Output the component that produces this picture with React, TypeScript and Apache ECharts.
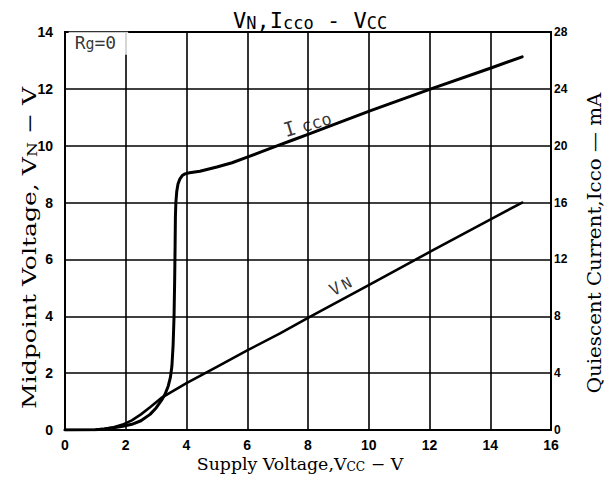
import React, { useEffect, useRef } from "react";
import * as echarts from "echarts";

// Supply voltage (V) vs quiescent current Icco (mA)
const iccoPoints: [number, number][] = [
  [0, 0], [1.0, 0.02], [1.3, 0.07], [1.6, 0.16], [1.9, 0.26], [2.2, 0.4],
  [2.5, 0.65], [2.8, 1.1], [3.0, 1.55], [3.18, 2.1], [3.3, 2.55], [3.4, 3.1],
  [3.47, 3.7], [3.52, 4.5], [3.56, 6.0], [3.59, 8.0], [3.61, 10.5], [3.625, 13.0],
  [3.635, 15.0], [3.65, 16.0], [3.68, 16.8], [3.72, 17.3], [3.78, 17.65],
  [3.86, 17.9], [3.95, 18.02], [4.1, 18.1], [4.44, 18.2], [5.0, 18.5],
  [5.5, 18.8], [6.0, 19.2], [6.5, 19.6], [7.0, 20.0], [7.5, 20.4], [8.0, 20.8],
  [8.8, 21.45], [10.04, 22.45], [12.05, 24.0], [14.0, 25.45], [15.05, 26.25],
];

// Supply voltage (V) vs midpoint voltage VN (V)
const vnPoints: [number, number][] = [
  [0, 0], [1.0, 0.01], [1.3, 0.04], [1.6, 0.1], [1.9, 0.19], [2.2, 0.34],
  [2.5, 0.55], [2.8, 0.8], [3.2, 1.15], [4.0, 1.65], [5.0, 2.22], [6.0, 2.8],
  [7.08, 3.4], [8.09, 4.0], [10.06, 5.13], [12.07, 6.3], [14.01, 7.41], [15.05, 8.0],
];

const xTicks = [0, 2, 4, 6, 8, 10, 12, 14, 16];
const vnTicks = [0, 2, 4, 6, 8, 10, 12, 14];
const iccTicks = [0, 4, 8, 12, 16, 20, 24, 28];

// annotation anchors (data coordinates)
const iccoLabelAt: [number, number] = [7.97, 21.6];
const vnLabelAt: [number, number] = [9.05, 5.1];
const rgLabelAt: [number, number] = [1.1, 13.6];

const SERIF = "DejaVu Serif";
const MONO = "DejaVu Sans Mono";
const SANS = "Liberation Sans";

export default function App() {
  const ref = useRef<HTMLDivElement>(null);

  useEffect(() => {
    document.body.style.margin = "0";
    if (!ref.current) return;
    const chart = echarts.init(ref.current, null, { renderer: "svg" });

    const serifRich = (size: number, sub: number, subLH: number) => ({
      n: { fontFamily: SERIF, fontWeight: "normal", fontSize: size, lineHeight: size + 3, fill: "#000", color: "#000", verticalAlign: "bottom" },
      s: { fontFamily: SERIF, fontWeight: "normal", fontSize: sub, lineHeight: subLH, fill: "#000", color: "#000", verticalAlign: "bottom" },
    });

    const option: any = {
      animation: false,
      backgroundColor: "#fff",
      title: {
        text: "{b|V}{s|N}{b|,I}{s|cco}{b| - V}{s|CC}",
        left: 228,
        top: 2,
        textStyle: {
          fontWeight: "normal",
          rich: {
            b: { fontFamily: MONO, fontWeight: "normal", fontSize: 22, lineHeight: 24, color: "#000", verticalAlign: "bottom" },
            s: { fontFamily: MONO, fontWeight: "normal", fontSize: 17, lineHeight: 19, color: "#000", verticalAlign: "bottom" },
          },
        },
      },
      graphic: [
        {
          type: "text",
          x: 300,
          y: 463,
          scaleX: 1.02,
          z: 10,
          style: {
            text: "{n|Supply Voltage,V}{s|CC}{n| − V}",
            align: "center",
            verticalAlign: "middle",
            textAlign: "center",
            textVerticalAlign: "middle",
            fill: "#000",
            rich: serifRich(17, 12, 12),
          },
        },
        {
          type: "text",
          x: 28,
          y: 248,
          rotation: Math.PI / 2,
          scaleX: 1.32,
          z: 10,
          style: {
            text: "{n|Midpoint Voltage, V}{s|N}{n| − V}",
            align: "center",
            verticalAlign: "middle",
            textAlign: "center",
            textVerticalAlign: "middle",
            fill: "#000",
            rich: serifRich(19, 13, 14),
          },
        },
        {
          type: "text",
          x: 595,
          y: 243,
          rotation: Math.PI / 2,
          scaleX: 1.045,
          z: 10,
          style: {
            text: "Quiescent Current,Icco — mA",
            align: "center",
            verticalAlign: "middle",
            textAlign: "center",
            textVerticalAlign: "middle",
            fill: "#000",
            font: "19px 'DejaVu Serif'",
          },
        },
      ],
      grid: {
        left: 65,
        right: 63,
        top: 32,
        bottom: 50,
        show: true,
        borderColor: "#000",
        borderWidth: 2,
        backgroundColor: "transparent",
      },
      xAxis: {
        type: "value",
        min: xTicks[0],
        max: xTicks[xTicks.length - 1],
        interval: 2,
        axisLine: { show: true, lineStyle: { color: "#000", width: 2 } },
        axisTick: { show: false },
        splitLine: { show: true, lineStyle: { color: "#000", width: 1.6 } },
        axisLabel: {
          margin: 8,
          color: "#000",
          fontFamily: SANS,
          fontWeight: "bold",
          fontSize: 14,
        },
      },
      yAxis: [
        {
          type: "value",
          min: vnTicks[0],
          max: vnTicks[vnTicks.length - 1],
          interval: 2,
          position: "left",
          axisLine: { show: true, lineStyle: { color: "#000", width: 2 } },
          axisTick: { show: false },
          splitLine: { show: true, lineStyle: { color: "#000", width: 1.6 } },
          axisLabel: {
            margin: 12,
            color: "#000",
            fontFamily: SANS,
            fontWeight: "bold",
            fontSize: 14,
          },
        },
        {
          type: "value",
          min: iccTicks[0],
          max: iccTicks[iccTicks.length - 1],
          interval: 4,
          position: "right",
          axisLine: { show: true, lineStyle: { color: "#000", width: 2 } },
          axisTick: { show: false },
          splitLine: { show: false },
          axisLabel: {
            margin: 3,
            color: "#000",
            fontFamily: SANS,
            fontWeight: "bold",
            fontSize: 12,
          },
        },
      ],
      series: [
        {
          name: "Icco",
          type: "line",
          yAxisIndex: 1,
          data: iccoPoints,
          showSymbol: false,
          smooth: false,
          lineStyle: { color: "#000", width: 3, join: "round", cap: "round" },
          z: 5,
        },
        {
          name: "VN",
          type: "line",
          yAxisIndex: 0,
          data: vnPoints,
          showSymbol: false,
          smooth: false,
          lineStyle: { color: "#000", width: 2.6, join: "round", cap: "round" },
          z: 5,
        },
        {
          type: "scatter",
          yAxisIndex: 1,
          data: [iccoLabelAt],
          symbolSize: 1,
          itemStyle: { color: "transparent" },
          z: 6,
          label: {
            show: true,
            position: "inside",
            rotate: 17,
            formatter: "{b|I}{s|cco}",
            rich: {
              b: { fontFamily: MONO, fontSize: 20, lineHeight: 21, color: "#000", verticalAlign: "bottom", padding: [0, 6, 0, 0] },
              s: { fontFamily: MONO, fontSize: 17, lineHeight: 19, color: "#000", verticalAlign: "bottom" },
            },
          },
        },
        {
          type: "scatter",
          yAxisIndex: 0,
          data: [vnLabelAt],
          symbolSize: 1,
          itemStyle: { color: "transparent" },
          z: 6,
          label: {
            show: true,
            position: "inside",
            rotate: 28,
            formatter: "{b|V}{s|N}",
            rich: {
              b: { fontFamily: MONO, fontSize: 17, lineHeight: 19, color: "#000", verticalAlign: "bottom", padding: [0, 3, 0, 0] },
              s: { fontFamily: MONO, fontSize: 15, lineHeight: 17, color: "#000", verticalAlign: "bottom" },
            },
          },
        },
        {
          type: "scatter",
          yAxisIndex: 0,
          data: [rgLabelAt],
          symbolSize: 1,
          itemStyle: { color: "transparent" },
          z: 6,
          label: {
            show: true,
            position: "inside",
            formatter: "{b|R}{s|g}{b|=0}",
            backgroundColor: "#fff",
            padding: [1, 12, 3, 6],
            rich: {
              b: { fontFamily: MONO, fontSize: 18, lineHeight: 19, color: "#000", verticalAlign: "bottom" },
              s: { fontFamily: MONO, fontSize: 15, lineHeight: 17, color: "#000", verticalAlign: "bottom" },
            },
          },
        },
      ],
    };

    chart.setOption(option);
    return () => chart.dispose();
  }, []);

  return (
    <div
      ref={ref}
      style={{ position: "fixed", left: 0, top: 0, width: 614, height: 480 }}
    />
  );
}
